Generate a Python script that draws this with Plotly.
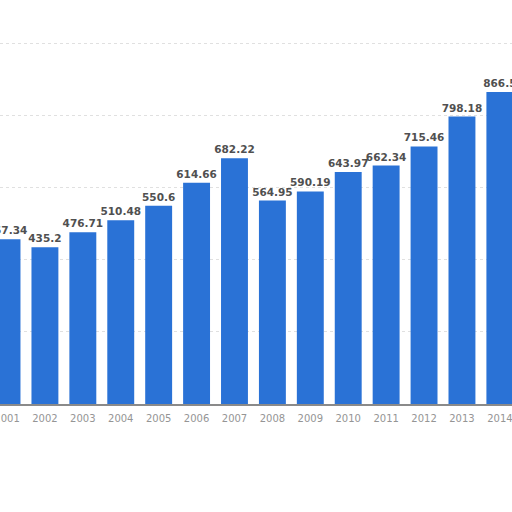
import plotly.graph_objects as go

# Years and values
years = ["2001", "2002", "2003", "2004", "2005", "2006", "2007",
         "2008", "2009", "2010", "2011", "2012", "2013", "2014"]
values = [457.34, 435.2, 476.71, 510.48, 550.6, 614.66, 682.22,
          564.95, 590.19, 643.97, 662.34, 715.46, 798.18, 866.5]
labels = ["457.34", "435.2", "476.71", "510.48", "550.6", "614.66", "682.22",
          "564.95", "590.19", "643.97", "662.34", "715.46", "798.18", "866.5"]

fig = go.Figure()

fig.add_trace(go.Bar(
    x=years,
    y=values,
    text=labels,
    textposition="outside",
    constraintext="none",
    cliponaxis=False,
    textfont=dict(family="DejaVu Sans", size=10.5, color="#505050", weight="bold"),
    marker=dict(color="#2a72d6", line=dict(width=0)),
    hoverinfo="x+y",
))

fig.update_layout(
    width=512,
    height=512,
    margin=dict(l=0, r=0, t=0, b=108, autoexpand=False),
    paper_bgcolor="white",
    plot_bgcolor="white",
    bargap=0.29,
    showlegend=False,
    xaxis=dict(
        type="category",
        range=[-0.185, 13.32],
        automargin=False,
        showline=True,
        linecolor="#8a8a8a",
        linewidth=1.5,
        ticks="",
        ticklabelstandoff=4,
        tickfont=dict(family="DejaVu Sans", size=10, color="#959595"),
        showgrid=False,
    ),
    yaxis=dict(
        range=[0, 1122],
        automargin=False,
        showticklabels=False,
        showgrid=True,
        gridcolor="#e0e0e0",
        griddash="dot",
        gridwidth=1,
        dtick=200,
        zeroline=False,
    ),
)

# drop the default page margin so the figure sits at the window corner
fig.write_html(
    "out.html",
    config={"displayModeBar": False},
    post_script="document.body.style.margin='0';",
)
